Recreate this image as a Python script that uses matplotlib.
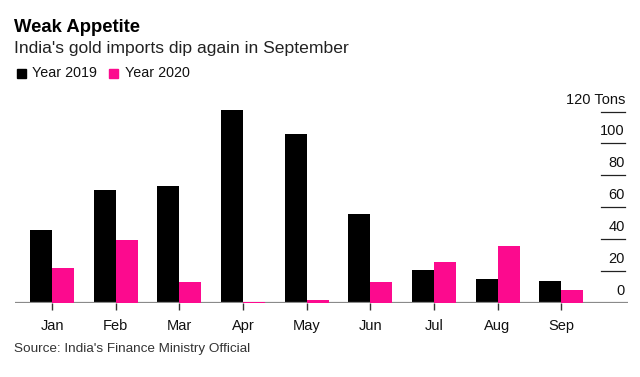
import matplotlib.pyplot as plt
import numpy as np

plt.rcParams['font.family'] = ['Liberation Sans', 'DejaVu Sans']

months = ['Jan', 'Feb', 'Mar', 'Apr', 'May', 'Jun', 'Jul', 'Aug', 'Sep']
year_2019 = [45.7, 70.9, 73.4, 121.2, 106.1, 55.8, 20.6, 14.9, 13.6]
year_2020 = [21.8, 39.4, 13.0, 0.6, 1.4, 13.0, 25.6, 35.7, 8.0]
yticks = [0, 20, 40, 60, 80, 100, 120]

black = '#000000'
pink = '#fc0a8e'

fig = plt.figure(figsize=(6.4, 3.77), dpi=100)
ax = fig.add_axes([15 / 640, 1 - 302.7 / 377, 613 / 640, (302.7 - 103.7) / 377])

x = np.arange(len(months))
w = 0.346
ax.bar(x - w / 2, year_2019, w, color=black, zorder=2)
ax.bar(x + w / 2, year_2020, w, color=pink, zorder=4)

ax.set_xlim(-0.583, 9.05)
ax.set_ylim(0, 125)

for s in ax.spines.values():
    s.set_visible(False)
ax.axhline(0, color='#8a8a8a', lw=1.6, zorder=3)

ax.set_xticks(x)
ax.set_xticklabels(months, fontsize=10.5, color='#111111')
ax.tick_params(axis='x', length=5, width=1, color='#333333', pad=7)
ax.set_yticks([])

# right-side value labels sitting on short dashes
tr = ax.get_yaxis_transform()
for v in yticks:
    if v > 0:
        ax.plot([0.956, 0.995], [v, v], transform=tr, color='#222222', lw=0.9, clip_on=False)
    label = '120 Tons' if v == 120 else str(v)
    ax.text(0.995, v + 3.2, label, transform=tr, ha='right', va='bottom',
            fontsize=10.5, color='#111111')

fig.text(14 / 640, 1 - 28 / 377, 'Weak Appetite', fontsize=13.3, fontweight='bold',
         va='center', ha='left', color='#000000')
fig.text(14 / 640, 1 - 49 / 377, "India's gold imports dip again in September", fontsize=12.6,
         va='center', ha='left', color='#222222')

# legend
fig.patches.append(plt.Rectangle((17 / 640, 1 - 77.5 / 377), 8.5 / 640, 8.5 / 377,
                                 transform=fig.transFigure, color=black))
fig.text(32 / 640, 1 - 73 / 377, 'Year 2019', fontsize=10.3, va='center', ha='left', color='#111111')
fig.patches.append(plt.Rectangle((109 / 640, 1 - 77.5 / 377), 8.5 / 640, 8.5 / 377,
                                 transform=fig.transFigure, color=pink))
fig.text(125 / 640, 1 - 73 / 377, 'Year 2020', fontsize=10.3, va='center', ha='left', color='#111111')

fig.text(14 / 640, 1 - 349 / 377, "Source: India's Finance Ministry Official", fontsize=9.7,
         va='center', ha='left', color='#333333')

fig.savefig('out.png', dpi=100)
